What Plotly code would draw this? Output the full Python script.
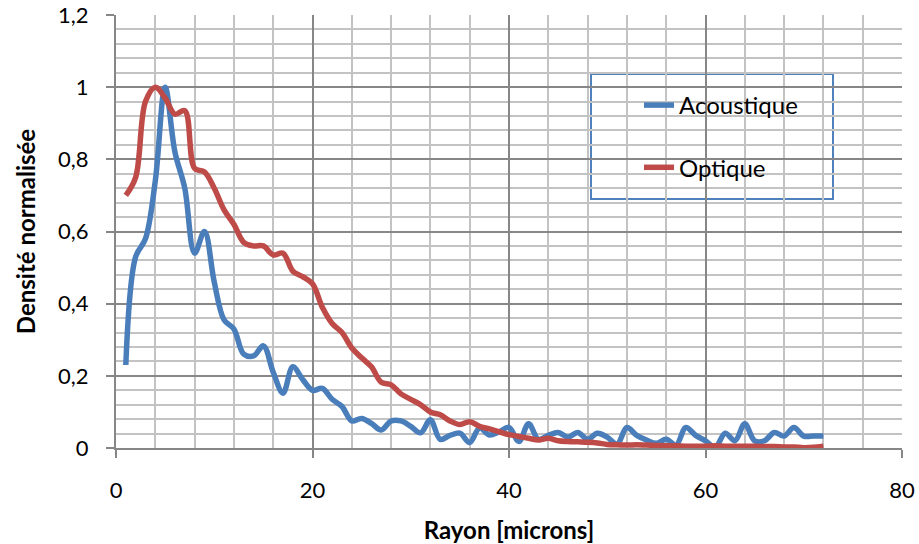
import plotly.graph_objects as go

rayon = list(range(1, 73))

acoustique = [
    0.23, 0.53, 0.58, 0.74, 1.00, 0.82, 0.72, 0.54, 0.60, 0.46,
    0.355, 0.33, 0.26, 0.255, 0.283, 0.21, 0.152, 0.225, 0.19, 0.16,
    0.165, 0.135, 0.115, 0.075, 0.082, 0.068, 0.05, 0.075, 0.075, 0.06,
    0.042, 0.078, 0.024, 0.035, 0.041, 0.015, 0.055, 0.036, 0.045, 0.057,
    0.018, 0.067, 0.024, 0.035, 0.043, 0.03, 0.043, 0.024, 0.041, 0.03,
    0.011, 0.057, 0.035, 0.022, 0.013, 0.024, 0.008, 0.057, 0.035, 0.02,
    0.002, 0.041, 0.02, 0.067, 0.02, 0.02, 0.043, 0.033, 0.057, 0.033,
    0.033, 0.033,
]

optique = [
    0.70, 0.75, 0.96, 1.00, 0.97, 0.925, 0.935, 0.775, 0.765, 0.72,
    0.66, 0.62, 0.57, 0.56, 0.56, 0.535, 0.54, 0.49, 0.475, 0.455,
    0.39, 0.345, 0.32, 0.277, 0.25, 0.225, 0.182, 0.175, 0.15, 0.135,
    0.12, 0.10, 0.092, 0.075, 0.065, 0.073, 0.06, 0.053, 0.045, 0.037,
    0.032, 0.027, 0.022, 0.027, 0.02, 0.018, 0.017, 0.016, 0.014, 0.01,
    0.009, 0.008, 0.009, 0.008, 0.007, 0.006, 0.006, 0.005, 0.005, 0.005,
    0.006, 0.005, 0.005, 0.005, 0.005, 0.004, 0.004, 0.003, 0.003, 0.001,
    0.002, 0.005,
]

series_names = ["Acoustique", "Optique"]
x_title = "Rayon [microns]"
y_title = "Densité normalisée"

FONT = "Lato"
MAJOR = "#878787"
MINOR = "#c3c3c3"

W, H = 919, 544
L, T, R, B = 116, 15, 17, 96
PW = W - L - R
PH = H - T - B

def px(xp):
    return (xp - L) / PW

def py(yp):
    return (H - B - yp) / PH

fig = go.Figure()
fig.add_trace(go.Scatter(
    x=rayon, y=acoustique, name=series_names[0], mode="lines",
    line=dict(color="#4a7ebb", width=5.5, shape="spline", smoothing=1.0),
    legendgroup="a",
))
fig.add_trace(go.Scatter(
    x=rayon, y=optique, name=series_names[1], mode="lines",
    line=dict(color="#be4b48", width=5.5, shape="spline", smoothing=1.0),
    legendgroup="b",
))

# legend frame
fig.add_shape(type="rect", xref="paper", yref="paper",
              x0=px(591), x1=px(833), y0=py(199), y1=py(74),
              line=dict(color="#4f81bd", width=2), fillcolor="white",
              layer="between")

fig.update_layout(
    width=W, height=H,
    margin=dict(l=L, r=R, t=T, b=B),
    paper_bgcolor="white", plot_bgcolor="white",
    separators=", ",
    font=dict(family=FONT, color="#000000", size=22),
    showlegend=True,
    legend=dict(
        x=px(639), y=py(83), xanchor="left", yanchor="top",
        bgcolor="rgba(0,0,0,0)", borderwidth=0,
        font=dict(family=FONT, size=24, color="#000000"),
        traceorder="grouped", tracegroupgap=28,
    ),
    xaxis=dict(
        range=[0, 80], dtick=20, tick0=0, automargin=False,
        showgrid=True, gridcolor=MAJOR, gridwidth=2,
        minor=dict(dtick=4, showgrid=True, gridcolor=MINOR, gridwidth=2, ticks=""),
        showline=True, linecolor=MAJOR, linewidth=2,
        ticks="outside", ticklen=8, tickcolor=MAJOR, tickwidth=2,
        ticklabelstandoff=14, ticklabeloverflow="allow",
        zeroline=False,
        tickfont=dict(family=FONT, size=22),
        title=dict(text="<b>" + x_title + "</b>", standoff=22,
                   font=dict(family=FONT, size=24)),
    ),
    yaxis=dict(
        range=[0, 1.2], dtick=0.2, tick0=0, automargin=False,
        showgrid=True, gridcolor=MAJOR, gridwidth=2,
        minor=dict(dtick=0.04, showgrid=True, gridcolor=MINOR, gridwidth=2, ticks=""),
        showline=True, linecolor=MAJOR, linewidth=2,
        ticks="outside", ticklen=8, tickcolor=MAJOR, tickwidth=2,
        ticklabelstandoff=13, ticklabeloverflow="allow",
        zeroline=False,
        tickfont=dict(family=FONT, size=22),
        title=dict(text="<b>" + y_title + "</b>", standoff=16,
                   font=dict(family=FONT, size=24)),
    ),
)

fig.write_html("out.html", config={"displayModeBar": False},
               post_script="document.body.style.margin='0';")
